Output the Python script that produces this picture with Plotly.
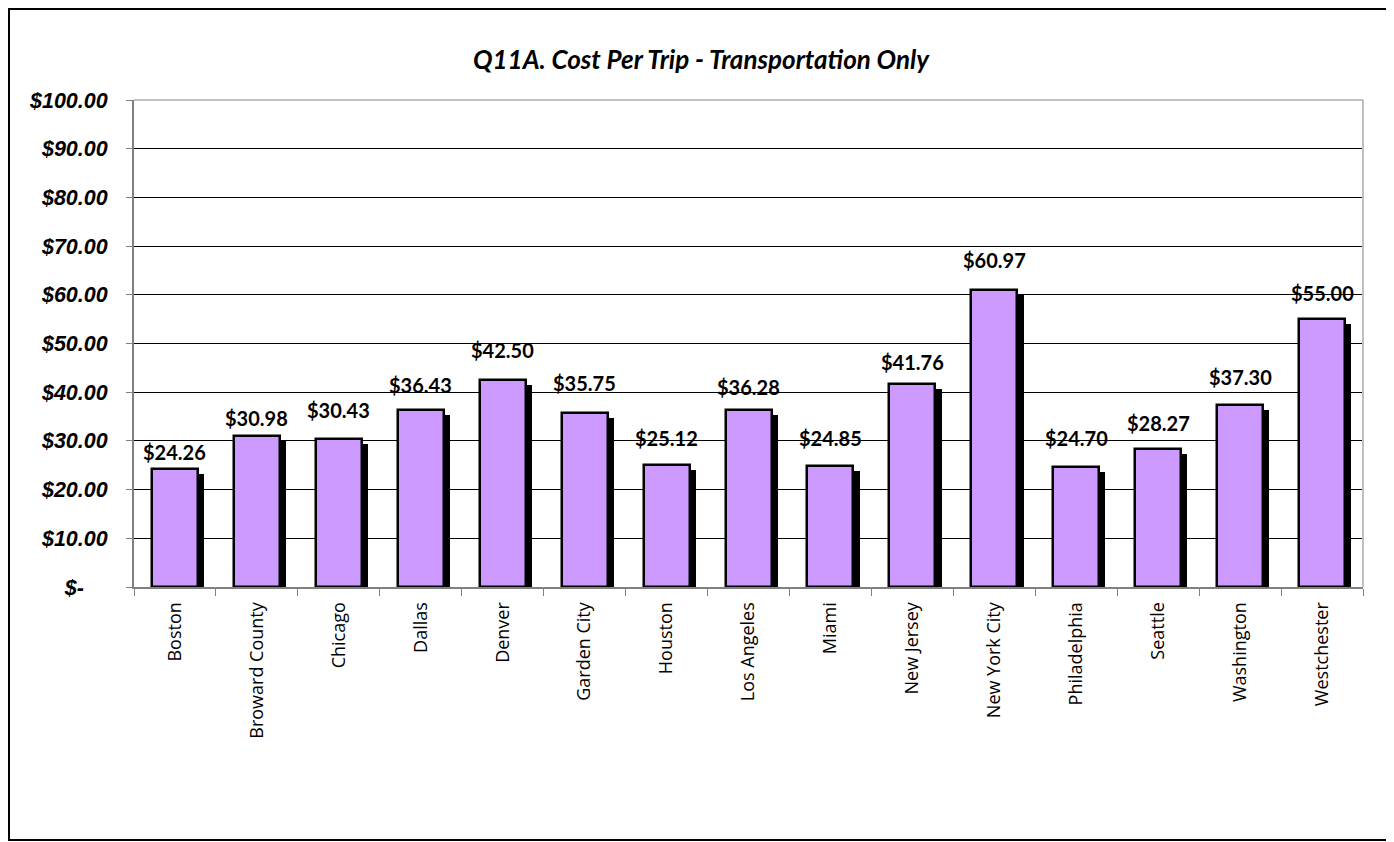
import plotly.graph_objects as go

# ---- data ----
cities = ["Boston", "Broward County", "Chicago", "Dallas", "Denver", "Garden City",
          "Houston", "Los Angeles", "Miami", "New Jersey", "New York City",
          "Philadelphia", "Seattle", "Washington", "Westchester"]
cost = [24.26, 30.98, 30.43, 36.43, 42.50, 35.75, 25.12, 36.28, 24.85, 41.76,
        60.97, 24.70, 28.27, 37.30, 55.00]
y_ticks = list(range(0, 101, 10))
y_tick_text = ["$-\u00a0\u00a0\u00a0\u00a0"] + [f"${v:.2f}" for v in y_ticks[1:]]
title_text = "Q11A. Cost Per Trip - Transportation Only"

# ---- styling / layout constants ----
label_lift_px = [17, 18, 29, 25, 30, 30, 27, 23, 28, 22, 30, 29, 26, 28, 26]

PAGE_PAD = 8  # default body margin of the html page
W, H = 1394 - PAGE_PAD, 842 - PAGE_PAD
L, T = 134 - PAGE_PAD, 100 - PAGE_PAD
plot_right, plot_bottom = 1363 - PAGE_PAD, 587 - PAGE_PAD
R, B = W - plot_right, H - plot_bottom
plot_w = plot_right - L
plot_h = plot_bottom - T
n = len(cities)
cat_px = plot_w / n
unit_px = plot_h / 100.0

edge = 2.5
bar_w = 46 / cat_px
shadow_w = (46 + edge) / cat_px
shadow_dx = 5 / cat_px
shadow_dy = 5 / unit_px

fig = go.Figure()
# shadow
fig.add_trace(go.Bar(
    x=cities, y=[v - shadow_dy for v in cost],
    width=shadow_w, offset=-shadow_w / 2 + shadow_dx,
    marker=dict(color="black", line=dict(width=0)),
    hoverinfo="skip", showlegend=False))
# main bars
fig.add_trace(go.Bar(
    x=cities, y=cost, width=bar_w, offset=-bar_w / 2,
    marker=dict(color="#CC99FF", line=dict(color="black", width=edge)),
    showlegend=False))

for c, v, lift in zip(cities, cost, label_lift_px):
    fig.add_annotation(x=c, y=v, xref="x", yref="y", text=f"${v:.2f}",
                       showarrow=False, yanchor="middle", yshift=lift,
                       font=dict(family="Lato", size=20, color="black", weight="bold"))

def px_x(px):
    return (px - L) / plot_w

def px_y(py):
    return (plot_bottom - py) / plot_h

shapes = [
    # plot area top / right border (light gray)
    dict(type="line", xref="paper", yref="paper", x0=0, x1=1, y0=1, y1=1,
         line=dict(color="#C0C0C0", width=2), layer="above"),
    dict(type="line", xref="paper", yref="paper", x0=1, x1=1, y0=0, y1=1,
         line=dict(color="#C0C0C0", width=2), layer="above"),
    # outer chart border
    dict(type="rect", xref="paper", yref="paper",
         x0=px_x(1), x1=px_x(W - 2), y0=px_y(H - 2), y1=px_y(1),
         line=dict(color="black", width=2), fillcolor="rgba(0,0,0,0)"),
]

fig.update_layout(
    width=W, height=H,
    margin=dict(l=L, r=R, t=T, b=B, pad=0),
    paper_bgcolor="white", plot_bgcolor="white",
    barmode="overlay", bargap=0,
    showlegend=False,
    shapes=shapes,
    title=dict(text=title_text, x=0.5, xref="container", xanchor="center",
               y=1 - (60 - PAGE_PAD) / H, yref="container", yanchor="middle",
               font=dict(family="Lato", size=26, color="black", weight="bold", style="italic")),
    xaxis=dict(type="category", range=[-0.5, n - 0.5], tickson="boundaries",
               ticks="outside", ticklen=7, tickwidth=1, tickcolor="#808080",
               showline=True, linecolor="#808080", linewidth=2,
               showgrid=False, tickangle=-90, ticklabelstandoff=6,
               tickfont=dict(family="Open Sans", size=18, color="black")),
    yaxis=dict(range=[0, 100], tickvals=y_ticks, ticktext=y_tick_text,
               ticks="outside", ticklen=6, tickwidth=1, tickcolor="#808080",
               showline=True, linecolor="#808080", linewidth=2,
               showgrid=True, gridcolor="black", gridwidth=1, zeroline=False,
               ticklabelstandoff=14,
               tickfont=dict(family="Liberation Sans", size=21.5, color="black",
                             weight="bold", style="italic")),
)

fig.write_html("out.html")
